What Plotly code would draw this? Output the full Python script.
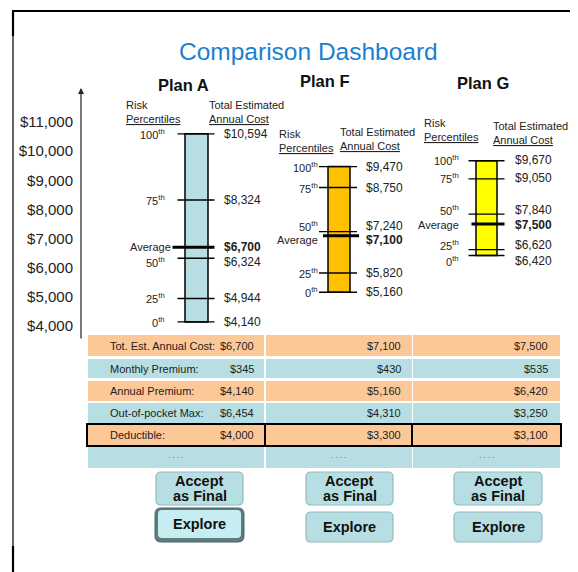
import plotly.graph_objects as go

W, H = 578, 572

# ---------------- data ----------------
y_tick_values = [4000, 5000, 6000, 7000, 8000, 9000, 10000, 11000]
y_tick_labels = ["$4,000", "$5,000", "$6,000", "$7,000", "$8,000", "$9,000", "$10,000", "$11,000"]

plan_names = ["Plan A", "Plan F", "Plan G"]
percentile_labels = ["100<sup>th</sup>", "75<sup>th</sup>", "50<sup>th</sup>", "25<sup>th</sup>", "0<sup>th</sup>"]
plan_a_costs = [10594, 8324, 6324, 4944, 4140]
plan_f_costs = [9470, 8750, 7240, 5820, 5160]
plan_g_costs = [9670, 9050, 7840, 6620, 6420]
average_costs = [6700, 7100, 7500]
bar_colors = ["#b7dfe3", "#ffc000", "#ffff00"]

table_row_labels = ["Tot. Est. Annual Cost:", "Monthly Premium:", "Annual Premium:",
                    "Out-of-pocket Max:", "Deductible:", ""]
tot_est_annual_cost = [6700, 7100, 7500]
monthly_premium = [345, 430, 535]
annual_premium = [4140, 5160, 6420]
out_of_pocket_max = [6454, 4310, 3250]
deductible = [4000, 3300, 3100]
table_rows = [tot_est_annual_cost, monthly_premium, annual_premium, out_of_pocket_max, deductible, None]

button_accept_lines = ["Accept", "as Final"]
button_explore = "Explore"

# ---------------- layout helpers ----------------
FONT = "Arial, Liberation Sans, sans-serif"
PEACH = "#fcc898"
BLUE = "#b7dfe3"
OFF = 8                    # page offset of the figure (body margin)
k = 204 / 7000.0           # pixels per dollar
y_lo = 4000 - (H + OFF - 326) / k
y_hi = 4000 + (326 - OFF) / k

fig = go.Figure()
shapes = []
ann = []


def txt(x, y, s, size=11, xanchor="left", yanchor="middle", color="#222", yref="y2", bold=False, yshift=0):
    if bold:
        s = "<b>" + s + "</b>"
    ann.append(dict(x=x, y=y, xref="x", yref=yref, text=s, showarrow=False, xanchor=xanchor,
                    yanchor=yanchor, yshift=yshift, font=dict(family=FONT, size=size, color=color)))


def rrect(x0, y0, x1, y1, r):
    return (f"M{x0+r},{y0} L{x1-r},{y0} Q{x1},{y0} {x1},{y0+r} L{x1},{y1-r} Q{x1},{y1} {x1-r},{y1} "
            f"L{x0+r},{y1} Q{x0},{y1} {x0},{y1-r} L{x0},{y0+r} Q{x0},{y0} {x0+r},{y0} Z")


# frame
shapes.append(dict(type="line", xref="x", yref="y2", x0=12, x1=W + OFF, y0=11, y1=11, line=dict(color="black", width=2)))
shapes.append(dict(type="line", xref="x", yref="y2", x0=13, x1=13, y0=11, y1=H + OFF, line=dict(color="black", width=1.2)))
shapes.append(dict(type="line", xref="x", yref="y2", x0=13, x1=13, y0=11, y1=36, line=dict(color="black", width=2.2)))
shapes.append(dict(type="line", xref="x", yref="y2", x0=13, x1=13, y0=546, y1=H + OFF, line=dict(color="black", width=2.2)))

# title
txt(308, 51, "Comparison Dashboard", size=24.5, xanchor="center", color="#1b7fd1")

# y axis arrow
ann.append(dict(x=81, y=88, xref="x", yref="y2", ax=81, ay=340, axref="x", ayref="y2", text="",
                showarrow=True, arrowhead=2, arrowsize=1, arrowwidth=1.2, arrowcolor="#222"))

# plan geometry
centers = [196.5, 339, 486.5]
widths = [23, 22, 21]
label_right = [167, 320, 461]
value_left = [222, 364, 513]
title_pos = [(183, 85), (325, 81), (483, 83)]
risk_pos = [(124, 105, 119), (277, 134, 148), (422, 123, 137)]
total_pos = [(207, 105, 119), (338, 132, 146), (491, 126, 140)]
tick_span = [(-19, 18), (-20, 18), (-18, 18)]
avg_span = [(-24, 18), (-16, 20), (-15, 18)]
pct_shift = [[0, 0, -4, 0, 0], [0, 0, 6, 0, 0], [1, 1, 4, 5, -6]]
avg_shift = [0, -4, -1]

all_costs = [plan_a_costs, plan_f_costs, plan_g_costs]

# bars via the library's bar trace
fig.add_trace(go.Bar(
    x=centers, base=[min(c) for c in all_costs], y=[max(c) - min(c) for c in all_costs],
    width=widths, marker=dict(color=bar_colors, line=dict(color="black", width=1.5)),
    hoverinfo="skip", showlegend=False, xaxis="x", yaxis="y"))

for i, costs in enumerate(all_costs):
    c = centers[i]
    lx, ly = [], []
    for v in costs:
        lx += [c + tick_span[i][0], c + tick_span[i][1], None]
        ly += [v, v, None]
    fig.add_trace(go.Scatter(x=lx, y=ly, mode="lines", line=dict(color="black", width=1.4),
                             hoverinfo="skip", showlegend=False, yaxis="y"))
    fig.add_trace(go.Scatter(x=[c + avg_span[i][0], c + avg_span[i][1]], y=[average_costs[i]] * 2,
                             mode="lines", line=dict(color="black", width=3),
                             hoverinfo="skip", showlegend=False, yaxis="y"))
    for j, v in enumerate(costs):
        txt(label_right[i], v, percentile_labels[j], size=11, xanchor="right", yref="y", yshift=pct_shift[i][j])
        txt(value_left[i], v, "${:,}".format(v), size=12, yref="y", yshift=pct_shift[i][j])
    txt(label_right[i] + (6 if i == 0 else 0), average_costs[i], "Average", size=11, xanchor="right",
        yref="y", yshift=avg_shift[i])
    txt(value_left[i], average_costs[i], "${:,}".format(average_costs[i]), size=12, yref="y",
        bold=True, yshift=avg_shift[i])
    # headers
    txt(title_pos[i][0], title_pos[i][1], plan_names[i], size=16.5, xanchor="center", color="#111", bold=True)
    rx, ry1, ry2 = risk_pos[i]
    txt(rx, ry1, "Risk", size=11)
    txt(rx, ry2, "<u>Percentiles</u>", size=11)
    tx, ty1, ty2 = total_pos[i]
    txt(tx, ty1, "Total Estimated", size=11)
    txt(tx, ty2, "<u>Annual Cost</u>", size=11)

# table
col_x = [(88, 264), (266, 412), (413, 560)]
row_y = [(335, 356), (359, 378), (381, 401), (403, 423), (424, 446), (447, 468)]
val_right = [256, 403, 550]
for r, (y0, y1) in enumerate(row_y):
    color = PEACH if r % 2 == 0 else BLUE
    ym = (y0 + y1) / 2
    for cidx, (x0, x1) in enumerate(col_x):
        shapes.append(dict(type="rect", xref="x", yref="y2", x0=x0, x1=x1, y0=y0, y1=y1,
                           fillcolor=color, line=dict(width=0), layer="below"))
        vals = table_rows[r]
        if vals is not None:
            txt(val_right[cidx], ym, "${:,}".format(vals[cidx]), size=11, xanchor="right")
        else:
            txt((x0 + x1) / 2, ym - 2, ". . . .", size=8, xanchor="center", color="#444")
    if table_row_labels[r]:
        txt(108, ym, table_row_labels[r], size=11)
# deductible outline
dy0, dy1 = row_y[4]
for x0, x1 in [(87, 265), (265, 412), (412, 561)]:
    shapes.append(dict(type="rect", xref="x", yref="y2", x0=x0, x1=x1, y0=dy0, y1=dy1,
                       line=dict(color="black", width=2)))

# buttons
btn_x = [(156, 243), (306, 393), (454, 542)]
for i, (x0, x1) in enumerate(btn_x):
    shapes.append(dict(type="path", xref="x", yref="y2", path=rrect(x0, 472, x1, 505, 5),
                       fillcolor=BLUE, line=dict(color="#94babd", width=1.2)))
    txt((x0 + x1) / 2, 481, button_accept_lines[0], size=14.5, xanchor="center", color="#111", bold=True)
    txt((x0 + x1) / 2, 496, button_accept_lines[1], size=14.5, xanchor="center", color="#111", bold=True)
    if i == 0:
        shapes.append(dict(type="path", xref="x", yref="y2", path=rrect(x0 - 1, 508, x1 + 1, 542, 6),
                           fillcolor="#5d7c80", line=dict(color="#4a6467", width=1)))
        shapes.append(dict(type="path", xref="x", yref="y2", path=rrect(x0 + 2, 510, x1 - 2, 538, 4),
                           fillcolor="#c6eef2", line=dict(width=0)))
        txt((x0 + x1) / 2, 524, button_explore, size=14.5, xanchor="center", color="#111", bold=True)
    else:
        shapes.append(dict(type="path", xref="x", yref="y2", path=rrect(x0, 512, x1, 542, 5),
                           fillcolor=BLUE, line=dict(color="#94babd", width=1.2)))
        txt((x0 + x1) / 2, 527, button_explore, size=14.5, xanchor="center", color="#111", bold=True)

# invisible anchor trace for pixel axis
fig.add_trace(go.Scatter(x=[100], y=[100], yaxis="y2", mode="markers", marker=dict(opacity=0),
                         hoverinfo="skip", showlegend=False))

fig.update_layout(
    width=W, height=H, margin=dict(l=0, r=0, t=0, b=0),
    paper_bgcolor="white", plot_bgcolor="rgba(0,0,0,0)",
    showlegend=False,
    xaxis=dict(range=[OFF, W + OFF], domain=[0, 1], visible=False, fixedrange=True),
    yaxis=dict(range=[y_lo, y_hi], domain=[0, 1], tickvals=y_tick_values, ticktext=y_tick_labels,
               showgrid=False, zeroline=False, showline=False, ticks="", anchor="free",
               position=(73 - OFF) / W, automargin=False, fixedrange=True,
               tickfont=dict(family=FONT, size=15, color="#222")),
    yaxis2=dict(range=[H + OFF, OFF], domain=[0, 1], overlaying="y", visible=False, fixedrange=True),
    shapes=shapes, annotations=ann,
)

fig.write_html("out.html")
